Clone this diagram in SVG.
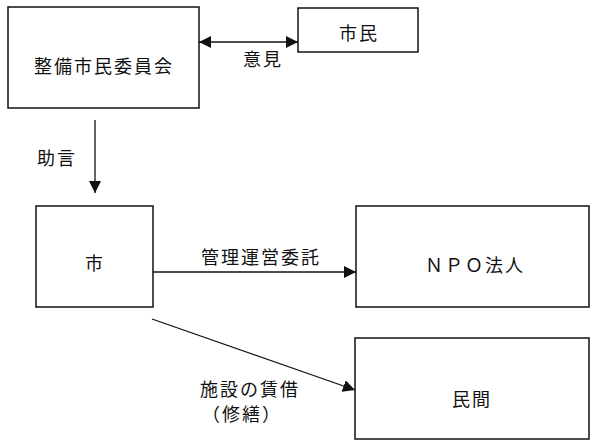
<svg xmlns="http://www.w3.org/2000/svg" width="600" height="448" viewBox="0 0 600 448">
<style>
.box{fill:#fff;stroke:#111;stroke-width:1.5}
.t{font-family:"Noto Sans CJK JP","Noto Sans",sans-serif;font-size:18px;fill:#111;dominant-baseline:central;letter-spacing:2px}
.c{text-anchor:middle}
.ln{fill:none;stroke:#111;stroke-width:1.3}
</style>
<defs>
<marker id="ah" viewBox="0 0 12 12" refX="12" refY="6" markerWidth="12" markerHeight="12" markerUnits="userSpaceOnUse" orient="auto-start-reverse">
<path d="M0,0 L12,6 L0,12 z" fill="#111"/>
</marker>
</defs>
<rect width="600" height="448" fill="#fff"/>
<g id="connectors">
<line class="ln" x1="199" y1="42" x2="298" y2="42" marker-start="url(#ah)" marker-end="url(#ah)"/>
<text class="t c" x="263" y="58">意見</text>
<line class="ln" x1="95" y1="120" x2="95" y2="193" marker-end="url(#ah)"/>
<text class="t c" x="57" y="157">助言</text>
<line class="ln" x1="153" y1="272" x2="356" y2="272" marker-end="url(#ah)"/>
<text class="t c" x="261" y="256">管理運営委託</text>
<line class="ln" x1="152" y1="319" x2="355" y2="390" marker-end="url(#ah)"/>
<text class="t" x="200" y="388">施設の賃借</text>
<text class="t" x="202" y="413">（修繕）</text>
</g>
<g id="committee">
<rect class="box" x="8" y="7" width="191" height="101"/>
<text class="t c" x="104" y="65">整備市民委員会</text>
</g>
<g id="citizens">
<rect class="box" x="298" y="8" width="120" height="44"/>
<text class="t c" x="359" y="32">市民</text>
</g>
<g id="city">
<rect class="box" x="36" y="206" width="117" height="101"/>
<text class="t c" x="95" y="262">市</text>
</g>
<g id="npo">
<rect class="box" x="356" y="206" width="233" height="101"/>
<text class="t c" x="475" y="264">ＮＰＯ法人</text>
</g>
<g id="private">
<rect class="box" x="355" y="338" width="234" height="101"/>
<text class="t c" x="472" y="398">民間</text>
</g>
</svg>
